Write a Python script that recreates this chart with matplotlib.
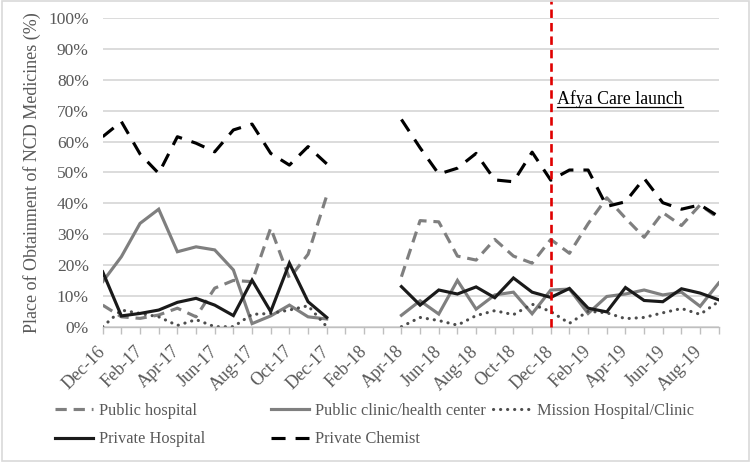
import numpy as np
import matplotlib
matplotlib.use("Agg")
import matplotlib.pyplot as plt
from matplotlib.lines import Line2D

nan = np.nan
months = ["Dec-16", "Jan-17", "Feb-17", "Mar-17", "Apr-17", "May-17", "Jun-17", "Jul-17",
          "Aug-17", "Sep-17", "Oct-17", "Nov-17", "Dec-17", "Jan-18", "Feb-18", "Mar-18",
          "Apr-18", "May-18", "Jun-18", "Jul-18", "Aug-18", "Sep-18", "Oct-18", "Nov-18",
          "Dec-18", "Jan-19", "Feb-19", "Mar-19", "Apr-19", "May-19", "Jun-19", "Jul-19",
          "Aug-19", "Sep-19"]

public_hospital = [7.0, 3.2, 2.7, 3.8, 6.0, 3.2, 12.5, 15.0, 14.6, 32.0, 15.7, 23.5, 42.5,
                   nan, nan, nan,
                   16.2, 34.4, 34.0, 22.9, 21.6, 28.3, 22.9, 20.6, 28.3, 23.8, 33.4, 41.8,
                   35.2, 29.0, 37.0, 32.8, 39.5, 35.1]
public_clinic = [14.6, 22.7, 33.5, 38.1, 24.3, 25.9, 24.9, 18.4, 1.0, 3.5, 7.0, 3.2, 2.5,
                 nan, nan, nan,
                 3.7, 8.4, 4.1, 15.0, 5.7, 10.3, 11.2, 4.2, 11.9, 12.2, 4.3, 9.8, 10.6,
                 11.9, 10.3, 11.2, 6.6, 14.2]
mission = [0.0, 5.4, 4.3, 3.2, 0.4, 2.3, 0.0, 0.0, 4.0, 4.3, 5.4, 6.8, 0.0,
           nan, nan, nan,
           0.0, 3.0, 2.0, 0.5, 3.6, 5.2, 3.9, 7.3, 4.9, 1.1, 5.0, 4.5, 2.6, 3.0, 4.5,
           5.9, 4.0, 8.2]
private_hospital = [17.8, 3.5, 4.3, 5.4, 7.9, 9.2, 7.0, 3.6, 15.1, 4.9, 20.6, 8.1, 3.0,
                    nan, nan, nan,
                    13.0, 7.0, 11.9, 10.6, 12.9, 9.4, 15.8, 11.2, 9.5, 12.4, 6.0, 4.8,
                    12.7, 8.5, 8.1, 12.3, 10.9, 8.7]
private_chemist = [61.6, 66.5, 56.0, 49.7, 61.6, 59.5, 56.7, 63.8, 65.7, 56.2, 52.4, 58.4,
                   52.8, nan, nan, nan,
                   67.2, 58.0, 49.5, 51.4, 56.2, 47.6, 47.0, 56.6, 47.5, 50.8, 50.8, 39.0,
                   40.5, 48.1, 40.2, 38.1, 39.5, 35.7]

series_names = ["Public hospital", "Public clinic/health center", "Mission Hospital/Clinic",
                "Private Hospital", "Private Chemist"]
launch_month = "Dec-18"
launch_label = "Afya Care launch"
ylabel = "Place of Obtainment of NCD Medicines (%)"

plt.rcParams['font.family'] = ['Liberation Serif', 'DejaVu Serif']
TXT = "#595959"

fig = plt.figure(figsize=(7.5, 4.62), dpi=100)
ax = fig.add_axes([102.7 / 750, 1 - 326.7 / 462, (718.8 - 102.7) / 750, (326.7 - 18.3) / 462])

x = np.arange(len(months))
lw = 2.25
styles = [
    dict(color="#7f7f7f", linestyle=(0, (3.6, 2.2)), dash_capstyle="butt"),
    dict(color="#7f7f7f", linestyle="-"),
    dict(color="#4d4d4d", linestyle=(0, (0.05, 2.2)), dash_capstyle="round"),
    dict(color="#1a1a1a", linestyle="-"),
    dict(color="#000000", linestyle=(0, (4.5, 3.2)), dash_capstyle="butt"),
]
data = [public_hospital, public_clinic, mission, private_hospital, private_chemist]
handles = []
for name, vals, st in zip(series_names, data, styles):
    h, = ax.plot(x, np.array(vals) / 100.0, lw=lw, label=name, solid_joinstyle="miter",
                 **st)
    handles.append(h)

ax.set_xlim(0, len(months) - 1)
ax.set_ylim(0, 1)
ax.set_yticks(np.arange(0, 1.01, 0.1))
ax.set_yticklabels([f"{int(round(v * 100))}%" for v in np.arange(0, 1.01, 0.1)],
                   fontsize=12.5, color=TXT)
ax.grid(axis="y", color="#d9d9d9", lw=1.3)
ax.set_axisbelow(True)
ax.tick_params(axis="y", length=0, pad=10)

ax.set_xticks(x)
ax.set_xticklabels([m if i % 2 == 0 else "" for i, m in enumerate(months)],
                   rotation=45, ha="right", va="center", rotation_mode="anchor",
                   fontsize=13, color=TXT)
ax.tick_params(axis="x", length=5, color="#bfbfbf", width=1, pad=11)
for s in ["top", "right", "left"]:
    ax.spines[s].set_visible(False)
ax.spines["bottom"].set_color("#bfbfbf")
ax.spines["bottom"].set_linewidth(1)

ax.set_ylabel(ylabel, fontsize=13, color=TXT)
ax.yaxis.set_label_coords(-0.1, 0.5)

# launch line
lx = months.index(launch_month)
ax.plot([lx, lx], [0, 1.06], color="#e00000", lw=1.9, linestyle=(0, (3.2, 1.9)),
        clip_on=False, zorder=5)
t = ax.text(lx + 0.36, 0.722, launch_label, fontsize=12.8, color="black", va="baseline",
            ha="left")

# legends
lkw = dict(frameon=False, fontsize=11.8, labelcolor=TXT, handlelength=2.3,
           handletextpad=0.4, borderpad=0, borderaxespad=0, labelspacing=0.75,
           loc="upper left")
ytop = 1 - 403 / 462
fig.legend([handles[0], handles[3]], [series_names[0], series_names[3]],
           bbox_to_anchor=(55 / 750, ytop), **lkw)
fig.legend([handles[1], handles[4]], [series_names[1], series_names[4]],
           bbox_to_anchor=(271 / 750, ytop), **lkw)
fig.legend([handles[2]], [series_names[2]],
           bbox_to_anchor=(493 / 750, ytop), **lkw)

# figure border
fig.patches.append(plt.Rectangle((0.002, 0.003), 0.996, 0.994, transform=fig.transFigure,
                                 fill=False, edgecolor="#d9d9d9", lw=1.2))

# underline for launch label
fig.canvas.draw()
bb = t.get_window_extent()
base = ax.transData.transform((lx, 0.722))[1]
uy = (base - 3) / fig.bbox.height
fig.add_artist(Line2D([bb.x0 / fig.bbox.width, bb.x1 / fig.bbox.width], [uy, uy],
                      color="black", lw=0.9, transform=fig.transFigure))

fig.savefig("out.png", dpi=100)
